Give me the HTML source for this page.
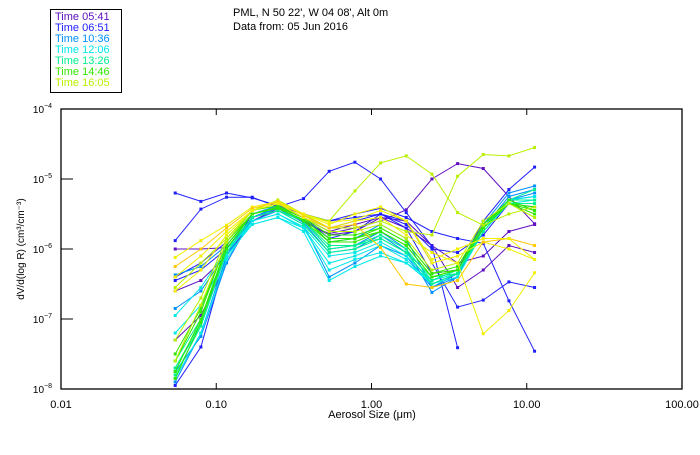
<!DOCTYPE html>
<html><head><meta charset="utf-8"><style>
body{margin:0;background:#fff;}
svg text{font-family:"Liberation Sans",sans-serif;}
</style></head><body>
<svg id="chart" width="700" height="450" viewBox="0 0 700 450" xmlns="http://www.w3.org/2000/svg">
<rect x="0" y="0" width="700" height="450" fill="#fff"/>
<g>
<rect x="50.5" y="9.5" width="71" height="83" fill="none" stroke="#000"/>
<text x="55" y="20" font-size="11" fill="#6010c0">Time 05:41</text>
<text x="55" y="31" font-size="11" fill="#2020ff">Time 06:51</text>
<text x="55" y="42" font-size="11" fill="#0090ff">Time 10:36</text>
<text x="55" y="53" font-size="11" fill="#00e8e8">Time 12:06</text>
<text x="55" y="64" font-size="11" fill="#00f090">Time 13:26</text>
<text x="55" y="75" font-size="11" fill="#30e800">Time 14:46</text>
<text x="55" y="86" font-size="11" fill="#b8f000">Time 16:05</text>
</g>
<text x="233" y="16" font-size="11">PML, N 50 22', W 04 08', Alt 0m</text>
<text x="233" y="30" font-size="11">Data from: 05 Jun 2016</text>
<g id="plot"></g>
<g id="axes"></g>
<text x="372" y="418" font-size="11" text-anchor="middle">Aerosol Size (μm)</text>
<text transform="translate(24,249) rotate(-90)" font-size="10" text-anchor="middle">dV/d(log R) (cm³/cm⁻³)</text>
</svg>
<script>
const sizes=[0.0544,0.0796,0.1165,0.1705,0.2495,0.365,0.534,0.782,1.144,1.674,2.45,3.585,5.246,7.677,11.23];
const xTickLabels=["0.01","0.10","1.00","10.00","100.00"];
const yTickExps=[-4,-5,-6,-7,-8];
const seriesColors=["#6010c0","#6010c0","#6010c0","#2020ff","#2020ff","#2020ff","#2020ff","#2020ff","#0090ff","#0090ff","#0090ff","#0090ff","#00e8e8","#00e8e8","#00e8e8","#00e8e8","#00f090","#00f090","#00f090","#30e800","#30e800","#30e800","#30e800","#b8f000","#b8f000","#b8f000","#f0f000","#f0f000","#ffc800","#f0f000"];
const seriesLogValues=[
[-6.0,-6.0,-5.98,-5.6,-5.42,-5.62,-5.78,-5.7,-5.6,-5.44,-5.0,-4.78,-4.85,-5.25,-5.64],
[-6.6,-6.45,-6.1,-5.6,-5.45,-5.6,-5.8,-5.75,-5.55,-5.7,-5.95,-6.55,-6.3,-5.95,-6.05],
[-7.3,-6.95,-6.2,-5.55,-5.4,-5.55,-5.75,-5.65,-5.55,-5.6,-5.95,-6.2,-6.1,-5.75,-5.65],
[-5.2,-5.32,-5.2,-5.27,-5.38,-5.5,-5.6,-5.55,-5.5,-5.6,-6.2,-6.83,-6.73,-6.47,-6.55],
[-5.88,-5.43,-5.26,-5.26,-5.4,-5.28,-4.89,-4.76,-5.0,-5.48,-5.96,-7.41,null,null,null],
[-6.4,-6.2,-5.9,-5.45,-5.35,-5.5,-5.6,-5.5,-5.42,-5.55,-5.75,-5.85,-5.92,-6.74,-7.46],
[-7.95,-7.4,-6.1,-5.5,-5.4,-5.55,-5.85,-5.75,-5.5,-5.7,-6.35,-6.3,-5.6,-5.15,-4.83],
[-6.45,-6.3,-6.0,-5.55,-5.4,-5.55,-5.7,-5.6,-5.5,-5.65,-6.0,-6.05,-5.8,-5.35,-5.4],
[-6.37,-6.25,-5.95,-5.5,-5.38,-5.55,-5.9,-5.85,-5.65,-5.85,-6.55,-6.4,-5.65,-5.2,-5.1],
[-7.75,-7.25,-6.2,-5.55,-5.4,-5.6,-6.0,-5.95,-5.75,-6.0,-6.62,-6.4,-5.7,-5.25,-5.15],
[-6.85,-6.6,-6.05,-5.6,-5.45,-5.65,-6.4,-6.2,-5.95,-6.1,-6.55,-6.35,-5.65,-5.3,-5.25],
[-7.9,-7.2,-6.1,-5.55,-5.42,-5.62,-6.05,-6.0,-5.8,-6.05,-6.5,-6.35,-5.7,-5.3,-5.2],
[-6.95,-6.55,-6.0,-5.65,-5.55,-5.75,-6.45,-6.25,-6.1,-6.2,-6.5,-6.35,-5.7,-5.3,-5.3],
[-7.2,-6.8,-6.1,-5.65,-5.55,-5.7,-6.3,-6.15,-6.05,-6.2,-6.45,-6.3,-5.7,-5.3,-5.25],
[-7.7,-7.1,-6.05,-5.6,-5.5,-5.7,-6.2,-6.1,-5.95,-6.15,-6.5,-6.4,-5.75,-5.35,-5.3],
[-7.85,-7.2,-6.15,-5.6,-5.5,-5.68,-6.1,-6.05,-5.9,-6.1,-6.45,-6.35,-5.7,-5.3,-5.25],
[-7.6,-7.0,-6.0,-5.55,-5.45,-5.65,-6.05,-6.0,-5.85,-6.05,-6.4,-6.35,-5.7,-5.3,-5.3],
[-7.8,-7.1,-6.05,-5.55,-5.45,-5.6,-5.95,-5.95,-5.8,-6.0,-6.45,-6.3,-5.7,-5.35,-5.35],
[-7.7,-7.05,-6.0,-5.5,-5.42,-5.6,-6.0,-5.95,-5.85,-6.05,-6.5,-6.35,-5.75,-5.3,-5.15],
[-7.6,-6.9,-5.9,-5.5,-5.4,-5.55,-5.9,-5.9,-5.75,-5.95,-6.4,-6.3,-5.7,-5.35,-5.4],
[-7.75,-7.0,-5.95,-5.5,-5.42,-5.58,-5.85,-5.85,-5.7,-5.9,-6.35,-6.3,-5.65,-5.3,-5.45],
[-7.5,-6.85,-5.9,-5.45,-5.38,-5.55,-5.8,-5.8,-5.7,-5.9,-6.35,-6.25,-5.65,-5.35,-5.5],
[-7.85,-7.05,-6.0,-5.5,-5.4,-5.6,-5.9,-5.85,-5.75,-5.95,-6.4,-6.3,-5.7,-5.35,-5.45],
[-6.55,-6.2,-5.85,-5.45,-5.3,-5.5,-5.6,-5.17,-4.77,-4.67,-4.93,-5.48,-5.66,-5.5,-5.4],
[-7.3,-6.7,-5.85,-5.45,-5.35,-5.5,-5.7,-5.7,-5.6,-5.75,-5.8,-4.96,-4.65,-4.67,-4.55],
[-7.6,-6.8,-5.9,-5.45,-5.35,-5.55,-5.75,-5.75,-5.65,-5.85,-6.3,-6.2,-5.6,-5.35,-5.55],
[-6.12,-5.88,-5.66,-5.4,-5.32,-5.5,-5.65,-5.5,-5.4,-5.6,-6.2,-6.1,-5.9,-6.0,-6.15],
[-6.4,-6.1,-5.75,-5.45,-5.35,-5.55,-5.7,-5.6,-5.55,-5.8,-6.05,-6.2,-7.21,-6.88,-6.34],
[-6.25,-6.0,-5.7,-5.42,-5.33,-5.52,-5.7,-5.65,-5.98,-6.5,-6.55,-6.45,-5.9,-5.85,-5.95],
[-6.6,-6.3,-5.8,-5.45,-5.35,-5.5,-5.62,-5.58,-5.45,-5.6,-6.15,-6.0,-5.85,-5.85,-6.15]
];
const L=61,R=682,T=109,B=389;
function xPos(s){return L+(Math.log10(s)+2)/4*(R-L);}
function yPos(e){return T+(-4-e)/4*(B-T);}
const NS="http://www.w3.org/2000/svg";
const plot=document.getElementById('plot'),axes=document.getElementById('axes');
function mk(t,a,p){const e=document.createElementNS(NS,t);for(const k in a)e.setAttribute(k,a[k]);p.appendChild(e);return e;}
seriesLogValues.forEach((vals,i)=>{
  const g=mk('g',{},plot);
  
  
  let d='';let pen=false;
  vals.forEach((v,j)=>{if(v===null){pen=false;return;}d+=(pen?'L':'M')+xPos(sizes[j]).toFixed(1)+' '+yPos(v).toFixed(1);pen=true;});
  mk('path',{d:d,fill:'none',stroke:seriesColors[i],'stroke-width':1},g);
  vals.forEach((v,j)=>{if(v===null)return;
    const m=mk('rect',{x:xPos(sizes[j])-1.5,y:yPos(v)-1.5,width:3,height:3,fill:seriesColors[i]},g);
    
    
  });
});
mk('rect',{x:L,y:T,width:R-L,height:B-T,fill:'none',stroke:'#000','stroke-width':1.3},axes);
xTickLabels.forEach((lab,i)=>{
  const x=xPos(parseFloat(lab));
  if(i>0&&i<xTickLabels.length-1){mk('line',{x1:x,y1:B,x2:x,y2:B-6,stroke:'#000'},axes);mk('line',{x1:x,y1:T,x2:x,y2:T+6,stroke:'#000'},axes);}
  const t=mk('text',{x:x,y:408,'font-size':11,'text-anchor':'middle'},axes);
  t.textContent=lab;
  
  
});
yTickExps.forEach(e=>{
  const y=yPos(e);
  mk('line',{x1:L,y1:y,x2:L+12,y2:y,stroke:'#000'},axes);
  const t=mk('text',{x:52,y:y+4,'font-size':10,'text-anchor':'end'},axes);
  
  
  const b=mk('tspan',{},t);b.textContent='10';
  const s=mk('tspan',{dy:-5,'font-size':7},t);s.textContent=String(e).replace('-','−');
});
</script>
</body></html>
